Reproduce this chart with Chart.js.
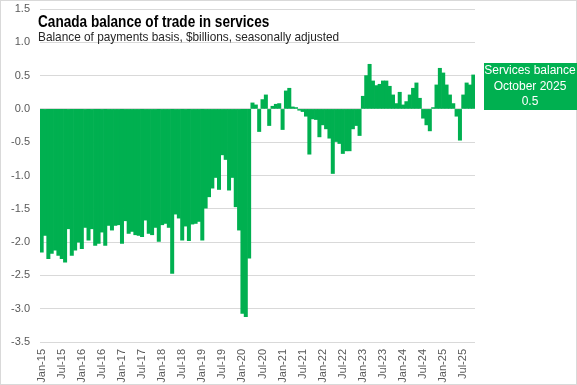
<!DOCTYPE html>
<html>
<head>
<meta charset="utf-8">
<script src="https://cdn.jsdelivr.net/npm/chart.js@4.4.1/dist/chart.umd.min.js"></script>
<style>
  body { margin: 0; background: #fff; }
  canvas { display: block; }
</style>
</head>
<body>
<canvas id="services_balance" width="577" height="385"></canvas>
<script>
// months and years for the category axis
var months = ['Jan', 'Feb', 'Mar', 'Apr', 'May', 'Jun', 'Jul', 'Aug', 'Sep', 'Oct', 'Nov', 'Dec'];
var years = ['15', '16', '17', '18', '19', '20', '21', '22', '23', '24', '25'];

// services balance, $ billions, one array per year
var bal_2015 = [-2.15, -1.90, -2.25, -2.17, -2.12, -2.20, -2.25, -2.30, -1.80, -2.20, -2.12, -2.00];
var bal_2016 = [-2.10, -1.78, -1.97, -1.80, -2.05, -2.02, -1.85, -2.05, -1.75, -1.82, -1.75, -1.74];
var bal_2017 = [-2.02, -1.68, -1.87, -1.84, -1.89, -1.90, -1.92, -1.67, -1.87, -1.89, -1.78, -1.99];
var bal_2018 = [-1.74, -1.72, -1.78, -2.47, -1.58, -1.64, -1.97, -1.76, -1.98, -1.73, -1.72, -1.69];
var bal_2019 = [-1.97, -1.49, -1.32, -1.19, -1.03, -1.21, -0.69, -0.76, -1.22, -1.03, -1.47, -1.82];
var bal_2020 = [-3.07, -3.12, -2.24, 0.09, 0.06, -0.34, 0.14, 0.21, -0.25, 0.04, 0.07, 0.08];
var bal_2021 = [-0.31, 0.27, 0.31, 0.03, 0.02, -0.02, -0.04, -0.11, -0.68, -0.15, -0.16, -0.42];
var bal_2022 = [-0.24, -0.30, -0.44, -0.97, -0.49, -0.52, -0.67, -0.63, -0.63, -0.30, -0.25, -0.40];
var bal_2023 = [0.19, 0.50, 0.67, 0.42, 0.35, 0.37, 0.42, 0.42, 0.34, 0.21, 0.08, 0.25];
var bal_2024 = [0.06, 0.11, 0.21, 0.31, 0.39, 0.16, -0.14, -0.24, -0.33, 0.02, 0.36, 0.61];
var bal_2025 = [0.54, 0.36, 0.21, 0.08, -0.11, -0.47, 0.21, 0.39, 0.36, 0.51];

var titleText = 'Canada balance of trade in services';
var subtitleText = 'Balance of payments basis, $billions, seasonally adjusted';
var calloutLines = ['Services balance', 'October 2025', '0.5'];

var green = '#00B050';

var labels = [];
var values = [];
[bal_2015, bal_2016, bal_2017, bal_2018, bal_2019, bal_2020,
 bal_2021, bal_2022, bal_2023, bal_2024, bal_2025].forEach(function (arr, k) {
    arr.forEach(function (v, m) {
        labels.push(months[m] + '-' + years[k]);
        values.push(v);
    });
});

// text squeezed sideways to look like a narrow face
function narrowText(ctx, text, x, y, sx) {
    ctx.save();
    ctx.translate(x, y);
    ctx.scale(sx, 1);
    ctx.fillText(text, 0, 0);
    ctx.restore();
}

// title, subtitle, callout box and outer frame
var decorations = {
    id: 'decorations',
    afterDraw: function (chart) {
        var ctx = chart.ctx;
        ctx.save();
        ctx.strokeStyle = '#d9d9d9';
        ctx.lineWidth = 1;
        ctx.strokeRect(0.5, 0.5, chart.width - 1, chart.height - 1);

        ctx.textAlign = 'left';
        ctx.textBaseline = 'alphabetic';
        ctx.fillStyle = '#000';
        ctx.font = 'bold 16px "Liberation Sans", Arial, sans-serif';
        narrowText(ctx, titleText, 38, 27, 0.85);
        ctx.fillStyle = '#262626';
        ctx.font = '13px "Liberation Sans", Arial, sans-serif';
        narrowText(ctx, subtitleText, 38, 41, 0.91);

        ctx.fillStyle = green;
        ctx.fillRect(484, 63, 93, 47);
        ctx.fillStyle = '#fff';
        ctx.font = '12px "Liberation Sans", Arial, sans-serif';
        ctx.textAlign = 'center';
        ctx.textBaseline = 'middle';
        ctx.fillText(calloutLines[0], 530, 71);
        ctx.fillText(calloutLines[1], 530, 87);
        ctx.fillText(calloutLines[2], 530, 102);
        ctx.restore();
    }
};

var ctx = document.getElementById('services_balance').getContext('2d');
var chart = new Chart(ctx, {
    type: 'bar',
    data: {
        labels: labels,
        datasets: [{
            label: 'Services balance',
            data: values,
            backgroundColor: green,
            borderWidth: 0,
            barPercentage: 1,
            categoryPercentage: 1
        }]
    },
    options: {
        responsive: false,
        animation: false,
        devicePixelRatio: 1,
        layout: { padding: { top: 9, right: 102, bottom: 0, left: 0 } },
        plugins: {
            legend: { display: false },
            tooltip: { enabled: false }
        },
        scales: {
            x: {
                grid: { display: false, drawTicks: false },
                border: { display: false },
                ticks: {
                    autoSkip: false,
                    minRotation: 90,
                    maxRotation: 90,
                    padding: 7,
                    color: '#595959',
                    font: { family: '"Liberation Sans", Arial, sans-serif', size: 11 },
                    callback: function (val, index) {
                        return index % 6 === 0 ? this.getLabelForValue(val) : null;
                    }
                },
                afterFit: function (scale) { scale.height = 43; }
            },
            y: {
                min: -3.5,
                max: 1.5,
                grid: { color: '#d9d9d9', drawTicks: false },
                border: { display: false },
                ticks: {
                    stepSize: 0.5,
                    padding: 10,
                    color: '#595959',
                    font: { family: '"Liberation Sans", Arial, sans-serif', size: 11 },
                    callback: function (v) { return v.toFixed(1); }
                },
                afterFit: function (scale) {
                    scale.width = 40;
                    scale.paddingTop = 0;
                    scale.paddingBottom = 0;
                }
            }
        }
    },
    plugins: [decorations]
});
</script>
</body>
</html>
